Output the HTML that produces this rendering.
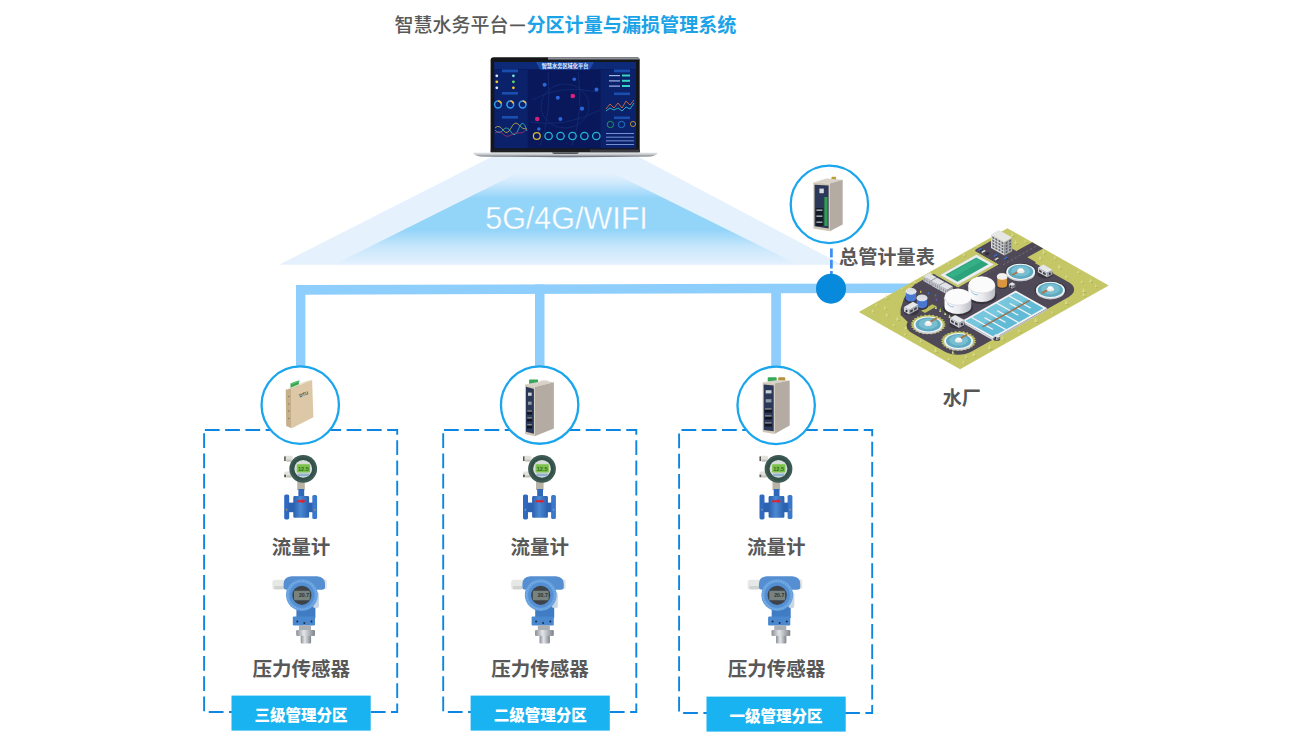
<!DOCTYPE html>
<html lang="zh-CN">
<head>
<meta charset="utf-8">
<title>智慧水务平台—分区计量与漏损管理系统</title>
<style>
html,body{margin:0;padding:0;background:#fff;}
body{width:1313px;height:749px;overflow:hidden;position:relative;font-family:"Liberation Sans","Noto Sans CJK SC",sans-serif;}
svg{position:absolute;left:0;top:0;display:block;}
text{font-family:"Liberation Sans","Noto Sans CJK SC",sans-serif;}
.lb{font-weight:700;fill:#585858;font-size:19.5px;text-anchor:middle;}
.tag{font-weight:900;fill:#fff;font-size:15.5px;text-anchor:middle;}
</style>
</head>
<body>
<svg width="1313" height="749" viewBox="0 0 1313 749">
<defs>
<linearGradient id="beam" x1="0" y1="0" x2="0" y2="1">
<stop offset="0" stop-color="#e5f1fd"/>
<stop offset="0.10" stop-color="#d0eafc"/>
<stop offset="0.28" stop-color="#93d4f9"/>
<stop offset="0.62" stop-color="#93d4f9"/>
<stop offset="0.80" stop-color="#c6e6fb"/>
<stop offset="1" stop-color="#e5f1fd"/>
</linearGradient>
<linearGradient id="blueBody" x1="0" y1="0" x2="1" y2="0">
<stop offset="0" stop-color="#2a5fae"/><stop offset="0.45" stop-color="#4a88d2"/><stop offset="1" stop-color="#2a5fae"/>
</linearGradient>
<linearGradient id="steel" x1="0" y1="0" x2="1" y2="0">
<stop offset="0" stop-color="#8a8f96"/><stop offset="0.4" stop-color="#e3e5e8"/><stop offset="1" stop-color="#7d838a"/>
</linearGradient>
<linearGradient id="base" x1="0" y1="0" x2="0" y2="1">
<stop offset="0" stop-color="#eceef0"/><stop offset="0.45" stop-color="#c3c6cb"/><stop offset="0.8" stop-color="#85888e"/><stop offset="1" stop-color="#4c4e54"/>
</linearGradient>
<linearGradient id="tankW" x1="0" y1="0" x2="1" y2="0">
<stop offset="0" stop-color="#ffffff"/><stop offset="0.55" stop-color="#e9eaee"/><stop offset="1" stop-color="#b9bbc4"/>
</linearGradient>
</defs>
<!-- wireless beam -->
<polygon points="491.5,157 639,157 842,264.7 279,264.7" fill="#e5f1fd"/>
<polygon points="518,172.8 612.5,172.8 798,264.6 334,264.6" fill="url(#beam)"/>
<text x="485.2" y="228.9" font-size="31.6" fill="#fff" stroke="#93d4f9" stroke-width="0.35" textLength="162.6" lengthAdjust="spacingAndGlyphs">5G/4G/WIFI</text>
<!-- pipes -->
<g fill="#8ecefd">
<polygon points="296,285.1 915,283.4 915,292.9 296,294.7"/>
<rect x="296" y="285.1" width="9.4" height="85"/>
<rect x="535" y="284.5" width="9.5" height="85"/>
<rect x="771.2" y="284" width="9.7" height="85"/>
</g>
<line x1="831.4" y1="247.8" x2="831.4" y2="275" stroke="#3d8df5" stroke-width="2.7" stroke-dasharray="8.8 2.4" stroke-dashoffset="10.4"/>
<circle cx="831" cy="288.7" r="15" fill="#0789dc"/>
<!-- laptop -->
<g>
<path d="M493.6,57.2 H636.7 Q639.7,57.2 639.7,60.2 V152.4 H490.6 V60.2 Q490.6,57.2 493.6,57.2Z" fill="#15161a"/>
<path d="M548,57.3 H636.7 Q639.2,57.3 639.5,59.4 H548Z" fill="#8e9197"/><rect x="490.8" y="149.6" width="148.7" height="2.8" fill="#1e1f24"/><rect x="590" y="149.6" width="49.5" height="2.8" fill="#3b3d43"/>
<rect x="494.3" y="62" width="141.7" height="86.4" fill="#0a1c5e"/>
<rect x="494.3" y="62" width="141.7" height="7" fill="#0d2a78"/>
<polygon points="536,62 594,62 590,69.5 540,69.5" fill="#1d4aa8"/>
<text x="565" y="67.6" font-size="5.2" font-weight="700" fill="#e8f1ff" text-anchor="middle">智慧水务区域化平台</text>
<!-- left panels -->
<rect x="494.5" y="70" width="33" height="78" fill="#0b2169"/>
<rect x="528" y="70" width="72" height="78" fill="#08185a"/>
<rect x="601" y="70" width="35" height="78" fill="#0b2169"/>
<g fill="#1a4fb0">
<rect x="502" y="69.5" width="16" height="2.8"/><rect x="502" y="92" width="16" height="2.6"/><rect x="502" y="116" width="16" height="2.6"/>
<rect x="614" y="69.5" width="16" height="2.8"/><rect x="614" y="92.5" width="16" height="2.6"/><rect x="614" y="116.5" width="16" height="2.6"/>
</g>
<g>
<circle cx="496.8" cy="75.8" r="1.4" fill="#dfe9ff"/><circle cx="496.8" cy="81.8" r="1.4" fill="#f2c530"/><circle cx="496.8" cy="87.8" r="1.4" fill="#dfe9ff"/>
<circle cx="513.4" cy="75.8" r="1.4" fill="#7de0d0"/><circle cx="513.4" cy="81.8" r="1.4" fill="#63e05a"/><circle cx="513.4" cy="87.8" r="1.4" fill="#f2c530"/>
</g>
<g fill="none" stroke-width="1.5">
<circle cx="498" cy="104.5" r="3.4" stroke="#2f9cf2"/><circle cx="510.3" cy="104.5" r="3.4" stroke="#2f9cf2"/><circle cx="522.6" cy="104.5" r="3.4" stroke="#2f9cf2"/>
<path d="M498,101.1 A3.4,3.4 0 0 1 501.2,103.4" stroke="#f4b740"/><path d="M510.3,101.1 A3.4,3.4 0 0 1 513.5,103.4" stroke="#f4b740"/><path d="M522.6,101.1 A3.4,3.4 0 0 1 525.8,103.4" stroke="#f4b740"/>
</g>
<path d="M495,128 q4,-4 8,2 t8,-2 t8,-3 t8,4" fill="none" stroke="#d8c53a" stroke-width="0.7"/>
<path d="M495,130 q4,5 8,0 t8,2 t8,-4 t8,3" fill="none" stroke="#34c9c0" stroke-width="0.7"/>
<path d="M495,133 q4,-3 8,1 t8,1 t8,-2 t8,-4" fill="none" stroke="#c0306a" stroke-width="0.7"/>
<g fill="none" stroke="#17337f" stroke-width="0.6"><path d="M532,100 Q560,84 598,92"/><path d="M540,146 Q552,112 548,72"/><path d="M530,122 Q566,128 600,110"/><path d="M578,72 Q584,110 572,146"/><ellipse cx="565" cy="106" rx="24" ry="22"/></g>
<!-- map dots -->
<g fill="#2a66d8"><circle cx="544.6" cy="84.8" r="2"/><circle cx="574.3" cy="79.3" r="1.8"/><circle cx="596.5" cy="89.6" r="2"/><circle cx="557.8" cy="97.8" r="2"/><circle cx="582" cy="108.7" r="2.1"/><circle cx="560.4" cy="119" r="2"/><circle cx="538.8" cy="129" r="1.8"/></g>
<circle cx="572.8" cy="96" r="2.3" fill="#e0207a"/><circle cx="537.2" cy="119" r="2.3" fill="#d0207a"/>
<!-- bottom icons -->
<g fill="none" stroke="#21b6d6" stroke-width="1.3"><circle cx="548.6" cy="136" r="3.7"/><circle cx="560.5" cy="136" r="3.7"/><circle cx="572.5" cy="136" r="3.7"/><circle cx="584.4" cy="136" r="3.7"/><circle cx="596.3" cy="136" r="3.7"/></g>
<circle cx="536.8" cy="136" r="3.4" fill="none" stroke="#d8b83a" stroke-width="1.3"/>
<!-- right panels -->
<g fill="#35d6c0"><rect x="622" y="74.5" width="8" height="2"/><rect x="622" y="79.8" width="8" height="2"/><rect x="622" y="85" width="8" height="2"/></g>
<g fill="#9fb6e8"><rect x="609" y="75" width="11" height="1.2"/><rect x="609" y="80.3" width="11" height="1.2"/><rect x="609" y="85.5" width="11" height="1.2"/></g>
<path d="M606,109 l4,-5 4,4 4,-5 4,5 4,-7 4,4 4,-5" fill="none" stroke="#e8763a" stroke-width="0.8"/>
<path d="M606,111 l4,-3 4,2 4,-2 4,3 4,-4 4,2 4,-6" fill="none" stroke="#2fd0d8" stroke-width="0.8"/>
<g fill="none" stroke-width="0.8"><circle cx="610.4" cy="124.5" r="3.2" stroke="#2fae5a"/><circle cx="621.5" cy="124.5" r="3.2" stroke="#2a8ad8"/><circle cx="633" cy="124" r="2.6" stroke="#d8a630"/></g>
<g fill="#7f9de0"><rect x="606" y="133" width="28" height="0.9"/><rect x="606" y="136.7" width="28" height="0.9"/><rect x="606" y="140.4" width="28" height="0.9"/><rect x="606" y="144" width="28" height="0.9"/></g>
<!-- base -->
<path d="M473,152.4 H657.7 Q657.2,155.4 650,156.4 Q565,158 481,156.4 Q473.6,155.4 473,152.4Z" fill="url(#base)"/>
<path d="M552,152.4 H579 Q578.4,153.8 576.5,153.8 H554.5 Q552.6,153.8 552,152.4Z" fill="#2a2b30"/>
</g>
<!-- zone 三级管理分区 -->
<rect x="204.1" y="430" width="193.1" height="282" fill="none" stroke="#0c86e2" stroke-width="1.9" stroke-dasharray="14.75 5.5" stroke-dashoffset="-0.8"/>
<rect x="231.5" y="695.6" width="139.2" height="35" fill="#19b3f1"/>
<text class="tag" x="301.1" y="720.6">三级管理分区</text>
<!-- zone 二级管理分区 -->
<rect x="443.2" y="430" width="193.1" height="282" fill="none" stroke="#0c86e2" stroke-width="1.9" stroke-dasharray="14.75 5.5" stroke-dashoffset="-0.8"/>
<rect x="470.6" y="695.6" width="139.2" height="35" fill="#19b3f1"/>
<text class="tag" x="540.2" y="720.6">二级管理分区</text>
<!-- zone 一级管理分区 -->
<rect x="679.1" y="430" width="193.1" height="283" fill="none" stroke="#0c86e2" stroke-width="1.9" stroke-dasharray="14.75 5.5" stroke-dashoffset="-2.4"/>
<rect x="706.5" y="696.6" width="139.2" height="35" fill="#19b3f1"/>
<text class="tag" x="776.1" y="721.6">一级管理分区</text>
<circle cx="300.25" cy="405.1" r="38.7" fill="#fff" stroke="#1aa5ec" stroke-width="2.3"/>
<g transform="translate(0.00,0.00)">
<polygon points="290.5,383.6 298.9,380.4 298.9,386 290.5,389" fill="#3aa655"/><polygon points="290.5,383.6 298.9,380.4 300.4,381.2 292,384.4" fill="#58c473"/>
<polygon points="285.7,389.7 291.7,388.5 312.1,380.1 306.3,381" fill="#eadcc0"/>
<polygon points="285.7,389.7 291.7,388.5 291.7,428.2 286.2,426" fill="#c6b08c"/>
<polygon points="291.7,388.5 312.1,380.1 313.4,417.3 291.7,428.2" fill="#dcc8a6"/>
<g fill="#8a7a60"><circle cx="288.8" cy="396.5" r="0.8"/><circle cx="288.8" cy="404" r="0.8"/><circle cx="288.8" cy="411" r="0.8"/><circle cx="288.8" cy="418.5" r="0.8"/></g>
<text x="298.4" y="396.4" font-size="4.6" font-weight="700" fill="#4e4a42" transform="rotate(-22 302 393)">DTU</text>
</g>
<circle cx="539.65" cy="405.05" r="38.7" fill="#fff" stroke="#1aa5ec" stroke-width="2.3"/>
<g><rect x="529.1" y="379.6" width="9" height="4.6" rx="0.8" fill="#35a85a"/><rect x="540.1" y="380.2" width="8" height="3.4" rx="1" fill="#e6e4e0"/><polygon points="525,384.6 544.2,380.7 553.9,382.2 534.7,387" fill="#d8d2c8"/><polygon points="534.7,387 553.9,382.2 553.9,428.5 534.7,436.3" fill="#b4aca2"/><polygon points="525,384.6 534.7,387 534.7,436.3 525,433.9" fill="#cfc6b6"/><polygon points="526,386.8 533.9000000000001,389.0 533.9000000000001,433.7 526,431.7" fill="#2b3858"/><rect x="527.0" y="410.2" width="5.1" height="4.4" fill="#10151f"/><rect x="527.2" y="410.4" width="4.7" height="1.2" fill="#9aa3ad"/><rect x="527.0" y="417.1" width="5.1" height="4.4" fill="#10151f"/><rect x="527.2" y="417.3" width="4.7" height="1.2" fill="#9aa3ad"/><rect x="527.0" y="424.0" width="5.1" height="4.4" fill="#10151f"/><rect x="527.2" y="424.2" width="4.7" height="1.2" fill="#9aa3ad"/><rect x="528.0" y="392.6" width="3.7" height="3.2" fill="#c9ced6"/><rect x="528.0" y="401.6" width="3.7" height="3.2" fill="#8f98a6"/></g>
<circle cx="776.15" cy="405.35" r="38.7" fill="#fff" stroke="#1aa5ec" stroke-width="2.3"/>
<g><rect x="767.7" y="377.2" width="9" height="4.6" rx="0.8" fill="#35a85a"/><rect x="778.2" y="377.2" width="7" height="4" rx="1" fill="#b8923a"/><polygon points="762.7,382.2 777.9,380.1 789.7,380.4 774.5,383.4" fill="#d8d2c8"/><polygon points="774.5,383.4 789.7,380.4 789.7,425.5 774.5,433.9" fill="#b4aca2"/><polygon points="762.7,382.2 774.5,383.4 774.5,433.9 762.7,432.1" fill="#cfc6b6"/><polygon points="763.7,384.4 773.7,385.4 773.7,431.29999999999995 763.7,429.90000000000003" fill="#2b3858"/><rect x="764.7" y="408.1" width="7.2" height="4.4" fill="#10151f"/><rect x="764.9" y="408.3" width="6.8" height="1.2" fill="#9aa3ad"/><rect x="764.7" y="415.1" width="7.2" height="4.4" fill="#10151f"/><rect x="764.9" y="415.3" width="6.8" height="1.2" fill="#9aa3ad"/><rect x="764.7" y="422.1" width="7.2" height="4.4" fill="#10151f"/><rect x="764.9" y="422.3" width="6.8" height="1.2" fill="#9aa3ad"/><rect x="765.7" y="390.2" width="5.8" height="3.2" fill="#c9ced6"/><rect x="765.7" y="399.2" width="5.8" height="3.2" fill="#8f98a6"/></g>
<circle cx="829.4" cy="204.4" r="38.7" fill="#fff" stroke="#1aa5ec" stroke-width="2.3"/>
<g>
<rect x="831.5" y="176.8" width="4.6" height="3.4" rx="0.8" fill="#b8a030"/>
<polygon points="813.4,182.4 826.5,178.6 842.7,179.7 829.7,183.4" fill="#d8d2c8"/>
<polygon points="829.7,183.4 842.7,179.7 842.7,224.4 829.7,231.2" fill="#b4aca2"/>
<polygon points="813.4,182.4 829.7,183.4 829.7,231.2 813.4,228.6" fill="#cfc6b6"/>
<polygon points="814.6,184.8 828.6,185.6 828.6,228.4 814.6,226.2" fill="#2b3858"/>
<rect x="824.4" y="197" width="3.2" height="29" fill="#2fa050"/>
<rect x="815.8" y="208" width="7.4" height="18" fill="#141a26"/>
<rect x="816.4" y="209.4" width="6" height="1.6" fill="#9aa3ad"/><rect x="816.4" y="215.4" width="6" height="1.6" fill="#9aa3ad"/><rect x="816.4" y="221.4" width="6" height="1.6" fill="#9aa3ad"/>
<rect x="819.4" y="188.6" width="4.4" height="4.6" fill="#d5dae2"/>
</g>
<g transform="translate(0,0)">
<!-- flow meter -->
<rect x="284.2" y="455.8" width="8.5" height="5.8" rx="1.6" fill="#e2e2dc"/><rect x="284.2" y="456.4" width="1.5" height="4.6" fill="#55534e"/><rect x="286.4" y="459.6" width="5" height="2" fill="#c4c4bc"/>
<rect x="284.2" y="471.6" width="8.5" height="5.8" rx="1.6" fill="#e2e2dc"/><rect x="284.2" y="474.6" width="1.8" height="2.6" fill="#55534e"/><rect x="286.4" y="475.4" width="5" height="2" fill="#c4c4bc"/>
<rect x="297.2" y="481" width="7.6" height="9" fill="#b9b3a6"/>
<rect x="298.4" y="489" width="5.8" height="8.5" fill="#2f68b8"/>
<rect x="284.2" y="494.4" width="5" height="25" rx="1.6" fill="#2f6ac0"/>
<rect x="312.3" y="495" width="4.8" height="24" rx="1.6" fill="#3a78cc"/>
<rect x="288.6" y="502.6" width="24.2" height="9.6" fill="#2c62b0"/>
<rect x="293.3" y="496" width="15.8" height="21.8" rx="1.4" fill="url(#blueBody)"/>
<path d="M296.9,500.2 h5.2 v-1.1 l3.6,2.1 l-3.6,2.1 v-1.1 h-5.2z" fill="#dc2430"/>
<circle cx="286.6" cy="509.8" r="0.8" fill="#c9a06a"/><circle cx="314.8" cy="509.8" r="0.8" fill="#c9a06a"/>
<circle cx="303.2" cy="468.8" r="13.9" fill="#3e5a54"/>
<circle cx="303.2" cy="468.8" r="11.6" fill="#34504a"/>
<circle cx="303.2" cy="468.8" r="8.9" fill="#d5ddd8"/>
<rect x="296.8" y="464.2" width="13.2" height="8.4" rx="0.8" fill="#7cc24a"/>
<text x="303.4" y="470.6" font-size="5.6" font-weight="700" fill="#2f6a24" text-anchor="middle">12.5</text>
<rect x="297.6" y="473.6" width="11.4" height="2.6" fill="#8fb0cf"/>
</g>
<g transform="translate(0,0)">
<!-- pressure transmitter -->
<rect x="272.4" y="579.7" width="13" height="9.8" rx="2.6" fill="#e6e8e6"/><rect x="274" y="586" width="10" height="3.2" rx="1.4" fill="#cfd3d2"/>
<rect x="322.5" y="579.4" width="4.4" height="9.6" rx="1.2" fill="#e4e6e6"/>
<path d="M291.6,576.3 H317 Q325,577 325,584 V587 Q325,589.7 322,589.7 H286.6 Q283.6,589.7 283.6,587 V584 Q283.6,577 291.6,576.3Z" fill="#558fd2"/>
<rect x="296.4" y="606" width="19" height="12" fill="#3f7cc4"/>
<rect x="313" y="592" width="6" height="16" rx="2" fill="#c9d6e4"/>
<circle cx="301.9" cy="595.1" r="15.9" fill="#65a0de"/>
<circle cx="301.9" cy="595.1" r="12.6" fill="#548fd4"/>
<circle cx="301.9" cy="595.1" r="14.2" fill="none" stroke="#7db0e6" stroke-width="1.5" stroke-dasharray="1.1 1.5"/>
<circle cx="301.9" cy="595.3" r="9.6" fill="#3d4349"/>
<rect x="294" y="590.8" width="15.8" height="9.4" rx="1.2" fill="#78827f"/>
<text x="304" y="597.4" font-size="5.2" font-weight="700" fill="#2c3331" text-anchor="middle">20.7</text>
<rect x="292.8" y="616.4" width="22.2" height="9" rx="1.2" fill="#4a88d0"/>
<circle cx="297.3" cy="621.6" r="1" fill="#1c2c48"/><circle cx="304.3" cy="623" r="1" fill="#1c2c48"/><circle cx="311.5" cy="621.6" r="1" fill="#1c2c48"/>
<rect x="299" y="625.2" width="12" height="5.2" fill="#aab0b6"/>
<rect x="296.2" y="630" width="18.8" height="6" rx="1.2" fill="url(#steel)"/>
<rect x="300.7" y="635.8" width="10.4" height="7.6" rx="0.8" fill="url(#steel)"/>
</g>
<text class="lb" x="300.9" y="553.6">流量计</text>
<text class="lb" x="301.2" y="675.8">压力传感器</text>
<g transform="translate(238.8,0)">
<!-- flow meter -->
<rect x="284.2" y="455.8" width="8.5" height="5.8" rx="1.6" fill="#e2e2dc"/><rect x="284.2" y="456.4" width="1.5" height="4.6" fill="#55534e"/><rect x="286.4" y="459.6" width="5" height="2" fill="#c4c4bc"/>
<rect x="284.2" y="471.6" width="8.5" height="5.8" rx="1.6" fill="#e2e2dc"/><rect x="284.2" y="474.6" width="1.8" height="2.6" fill="#55534e"/><rect x="286.4" y="475.4" width="5" height="2" fill="#c4c4bc"/>
<rect x="297.2" y="481" width="7.6" height="9" fill="#b9b3a6"/>
<rect x="298.4" y="489" width="5.8" height="8.5" fill="#2f68b8"/>
<rect x="284.2" y="494.4" width="5" height="25" rx="1.6" fill="#2f6ac0"/>
<rect x="312.3" y="495" width="4.8" height="24" rx="1.6" fill="#3a78cc"/>
<rect x="288.6" y="502.6" width="24.2" height="9.6" fill="#2c62b0"/>
<rect x="293.3" y="496" width="15.8" height="21.8" rx="1.4" fill="url(#blueBody)"/>
<path d="M296.9,500.2 h5.2 v-1.1 l3.6,2.1 l-3.6,2.1 v-1.1 h-5.2z" fill="#dc2430"/>
<circle cx="286.6" cy="509.8" r="0.8" fill="#c9a06a"/><circle cx="314.8" cy="509.8" r="0.8" fill="#c9a06a"/>
<circle cx="303.2" cy="468.8" r="13.9" fill="#3e5a54"/>
<circle cx="303.2" cy="468.8" r="11.6" fill="#34504a"/>
<circle cx="303.2" cy="468.8" r="8.9" fill="#d5ddd8"/>
<rect x="296.8" y="464.2" width="13.2" height="8.4" rx="0.8" fill="#7cc24a"/>
<text x="303.4" y="470.6" font-size="5.6" font-weight="700" fill="#2f6a24" text-anchor="middle">12.5</text>
<rect x="297.6" y="473.6" width="11.4" height="2.6" fill="#8fb0cf"/>
</g>
<g transform="translate(238.8,0)">
<!-- pressure transmitter -->
<rect x="272.4" y="579.7" width="13" height="9.8" rx="2.6" fill="#e6e8e6"/><rect x="274" y="586" width="10" height="3.2" rx="1.4" fill="#cfd3d2"/>
<rect x="322.5" y="579.4" width="4.4" height="9.6" rx="1.2" fill="#e4e6e6"/>
<path d="M291.6,576.3 H317 Q325,577 325,584 V587 Q325,589.7 322,589.7 H286.6 Q283.6,589.7 283.6,587 V584 Q283.6,577 291.6,576.3Z" fill="#558fd2"/>
<rect x="296.4" y="606" width="19" height="12" fill="#3f7cc4"/>
<rect x="313" y="592" width="6" height="16" rx="2" fill="#c9d6e4"/>
<circle cx="301.9" cy="595.1" r="15.9" fill="#65a0de"/>
<circle cx="301.9" cy="595.1" r="12.6" fill="#548fd4"/>
<circle cx="301.9" cy="595.1" r="14.2" fill="none" stroke="#7db0e6" stroke-width="1.5" stroke-dasharray="1.1 1.5"/>
<circle cx="301.9" cy="595.3" r="9.6" fill="#3d4349"/>
<rect x="294" y="590.8" width="15.8" height="9.4" rx="1.2" fill="#78827f"/>
<text x="304" y="597.4" font-size="5.2" font-weight="700" fill="#2c3331" text-anchor="middle">20.7</text>
<rect x="292.8" y="616.4" width="22.2" height="9" rx="1.2" fill="#4a88d0"/>
<circle cx="297.3" cy="621.6" r="1" fill="#1c2c48"/><circle cx="304.3" cy="623" r="1" fill="#1c2c48"/><circle cx="311.5" cy="621.6" r="1" fill="#1c2c48"/>
<rect x="299" y="625.2" width="12" height="5.2" fill="#aab0b6"/>
<rect x="296.2" y="630" width="18.8" height="6" rx="1.2" fill="url(#steel)"/>
<rect x="300.7" y="635.8" width="10.4" height="7.6" rx="0.8" fill="url(#steel)"/>
</g>
<text class="lb" x="539.7" y="553.6">流量计</text>
<text class="lb" x="540.0" y="675.8">压力传感器</text>
<g transform="translate(475.3,0)">
<!-- flow meter -->
<rect x="284.2" y="455.8" width="8.5" height="5.8" rx="1.6" fill="#e2e2dc"/><rect x="284.2" y="456.4" width="1.5" height="4.6" fill="#55534e"/><rect x="286.4" y="459.6" width="5" height="2" fill="#c4c4bc"/>
<rect x="284.2" y="471.6" width="8.5" height="5.8" rx="1.6" fill="#e2e2dc"/><rect x="284.2" y="474.6" width="1.8" height="2.6" fill="#55534e"/><rect x="286.4" y="475.4" width="5" height="2" fill="#c4c4bc"/>
<rect x="297.2" y="481" width="7.6" height="9" fill="#b9b3a6"/>
<rect x="298.4" y="489" width="5.8" height="8.5" fill="#2f68b8"/>
<rect x="284.2" y="494.4" width="5" height="25" rx="1.6" fill="#2f6ac0"/>
<rect x="312.3" y="495" width="4.8" height="24" rx="1.6" fill="#3a78cc"/>
<rect x="288.6" y="502.6" width="24.2" height="9.6" fill="#2c62b0"/>
<rect x="293.3" y="496" width="15.8" height="21.8" rx="1.4" fill="url(#blueBody)"/>
<path d="M296.9,500.2 h5.2 v-1.1 l3.6,2.1 l-3.6,2.1 v-1.1 h-5.2z" fill="#dc2430"/>
<circle cx="286.6" cy="509.8" r="0.8" fill="#c9a06a"/><circle cx="314.8" cy="509.8" r="0.8" fill="#c9a06a"/>
<circle cx="303.2" cy="468.8" r="13.9" fill="#3e5a54"/>
<circle cx="303.2" cy="468.8" r="11.6" fill="#34504a"/>
<circle cx="303.2" cy="468.8" r="8.9" fill="#d5ddd8"/>
<rect x="296.8" y="464.2" width="13.2" height="8.4" rx="0.8" fill="#7cc24a"/>
<text x="303.4" y="470.6" font-size="5.6" font-weight="700" fill="#2f6a24" text-anchor="middle">12.5</text>
<rect x="297.6" y="473.6" width="11.4" height="2.6" fill="#8fb0cf"/>
</g>
<g transform="translate(475.3,0)">
<!-- pressure transmitter -->
<rect x="272.4" y="579.7" width="13" height="9.8" rx="2.6" fill="#e6e8e6"/><rect x="274" y="586" width="10" height="3.2" rx="1.4" fill="#cfd3d2"/>
<rect x="322.5" y="579.4" width="4.4" height="9.6" rx="1.2" fill="#e4e6e6"/>
<path d="M291.6,576.3 H317 Q325,577 325,584 V587 Q325,589.7 322,589.7 H286.6 Q283.6,589.7 283.6,587 V584 Q283.6,577 291.6,576.3Z" fill="#558fd2"/>
<rect x="296.4" y="606" width="19" height="12" fill="#3f7cc4"/>
<rect x="313" y="592" width="6" height="16" rx="2" fill="#c9d6e4"/>
<circle cx="301.9" cy="595.1" r="15.9" fill="#65a0de"/>
<circle cx="301.9" cy="595.1" r="12.6" fill="#548fd4"/>
<circle cx="301.9" cy="595.1" r="14.2" fill="none" stroke="#7db0e6" stroke-width="1.5" stroke-dasharray="1.1 1.5"/>
<circle cx="301.9" cy="595.3" r="9.6" fill="#3d4349"/>
<rect x="294" y="590.8" width="15.8" height="9.4" rx="1.2" fill="#78827f"/>
<text x="304" y="597.4" font-size="5.2" font-weight="700" fill="#2c3331" text-anchor="middle">20.7</text>
<rect x="292.8" y="616.4" width="22.2" height="9" rx="1.2" fill="#4a88d0"/>
<circle cx="297.3" cy="621.6" r="1" fill="#1c2c48"/><circle cx="304.3" cy="623" r="1" fill="#1c2c48"/><circle cx="311.5" cy="621.6" r="1" fill="#1c2c48"/>
<rect x="299" y="625.2" width="12" height="5.2" fill="#aab0b6"/>
<rect x="296.2" y="630" width="18.8" height="6" rx="1.2" fill="url(#steel)"/>
<rect x="300.7" y="635.8" width="10.4" height="7.6" rx="0.8" fill="url(#steel)"/>
</g>
<text class="lb" x="776.2" y="553.6">流量计</text>
<text class="lb" x="776.5" y="675.8">压力传感器</text>
<text x="394.6" y="31.6" font-size="19" font-weight="500" fill="#595959">智慧水务平台<tspan font-family="Noto Sans CJK SC" font-size="16.5" font-weight="700" dx="0.6" dy="0.1" stroke="#595959" stroke-width="0.8">—</tspan><tspan font-weight="700" fill="#1ba3e8" font-size="19.1" dx="0.7" dy="-0.1">分区计量与漏损管理系统</tspan></text>
<text x="839" y="263.6" font-size="19.2" font-weight="700" fill="#595959">总管计量表</text>
<text x="961.7" y="405" font-size="19" font-weight="700" fill="#555" text-anchor="middle">水厂</text>
<!-- water plant -->
<g>
<g transform="matrix(0.8714,-0.4905,0.8704,0.4923,858.8,311.9)">
<rect x="0" y="0" width="170.6" height="116.4" fill="#c5c766"/>
<path d="M24,37 H136 A15,15 0 0 1 151,52 V90 A15,15 0 0 1 136,105 H24 A15,15 0 0 1 9,90 V52 A15,15 0 0 1 24,37Z" fill="#4f4957"/>
<polygon points="60,4 82,4 82,52 18,52 18,38 21,27 27,21 40,12 50,7" fill="#4f4957"/>
<rect x="78" y="31" width="74" height="20" fill="#4f4957"/>
<path d="M131.5,3.5 H149.5 A3,3 0 0 1 152.5,6.5 V49 A3,3 0 0 1 149.5,52 H131.5 A3,3 0 0 1 128.5,49 V6.5 A3,3 0 0 1 131.5,3.5Z" fill="#4f4957"/>
<rect x="150" y="28.4" width="20.6" height="12.6" fill="#4f4957"/>
<line x1="131" y1="34.7" x2="170" y2="34.7" stroke="#8d8994" stroke-width="0.5" stroke-dasharray="2.4 2"/>
<line x1="84" y1="34.5" x2="127" y2="34.5" stroke="#6f6b78" stroke-width="0.5" stroke-dasharray="2.4 2"/>
<rect x="82" y="6.5" width="46.5" height="25.5" fill="#c5c766"/>
<rect x="84.4" y="9" width="41.6" height="20.2" fill="#eceef0"/>
<rect x="84.4" y="9" width="41.6" height="20.2" fill="none" stroke="#b9bcc4" stroke-width="0.6" stroke-dasharray="0.8 0.8"/>
<rect x="87.4" y="11.8" width="35.6" height="14" fill="#2da37c"/>
<rect x="89" y="13" width="33" height="6" fill="#38b48a" opacity="0.7"/>
<rect x="37" y="34.5" width="13" height="4.5" fill="#b9bf5c"/>
<rect x="50" y="68.2" width="62" height="36.2" fill="#f1f2f4"/>
<rect x="52.2" y="70.4" width="57.6" height="31.8" fill="#62bbd6"/>
<rect x="52.2" y="70.4" width="57.6" height="13" fill="#7fcbe0" opacity="0.7"/>
<rect x="58.50" y="70.2" width="1.5" height="24.5" fill="#f1f2f4"/>
<rect x="65.75" y="77.9" width="1.5" height="24.5" fill="#f1f2f4"/>
<rect x="73.00" y="70.2" width="1.5" height="24.5" fill="#f1f2f4"/>
<rect x="80.25" y="77.9" width="1.5" height="24.5" fill="#f1f2f4"/>
<rect x="87.50" y="70.2" width="1.5" height="24.5" fill="#f1f2f4"/>
<rect x="94.75" y="77.9" width="1.5" height="24.5" fill="#f1f2f4"/>
<rect x="102.00" y="70.2" width="1.5" height="24.5" fill="#f1f2f4"/>
<rect x="56" y="85.4" width="54" height="1.8" fill="#9c7150"/>
</g>
<polygon points="993.2,338.8 1047.3,308.4 1047.3,310.0 993.2,340.4" fill="#bfc2ca"/>
<polygon points="961.7,320.9 993.2,338.8 993.2,340.4 961.7,322.5" fill="#d9dbe0"/>
<polygon points="872.7,311.9 875.8,312.8 873.3,313.0" fill="#a3a54e"/><polygon points="871.7,312.4 872.7,308.8 873.8,312.4" fill="#d9dc8e"/>
<polygon points="876.2,306.0 879.0,306.8 876.7,307.0" fill="#a3a54e"/><polygon points="875.3,306.5 876.2,303.2 877.2,306.5" fill="#d9dc8e"/>
<polygon points="886.2,297.9 889.8,298.9 886.9,299.2" fill="#a3a54e"/><polygon points="885.0,298.5 886.2,294.3 887.5,298.5" fill="#d9dc8e"/>
<polygon points="902.0,289.1 904.7,289.9 902.5,290.1" fill="#a3a54e"/><polygon points="901.1,289.6 902.0,286.5 902.9,289.6" fill="#d9dc8e"/>
<polygon points="914.6,282.5 918.0,283.4 915.2,283.6" fill="#a3a54e"/><polygon points="913.4,283.0 914.6,279.1 915.7,283.0" fill="#d9dc8e"/>
<polygon points="930.4,273.7 933.6,274.6 931.0,274.8" fill="#a3a54e"/><polygon points="929.3,274.2 930.4,270.6 931.5,274.2" fill="#d9dc8e"/>
<polygon points="948.6,264.3 951.2,265.1 949.0,265.2" fill="#a3a54e"/><polygon points="947.6,264.7 948.6,261.7 949.5,264.7" fill="#d9dc8e"/>
<polygon points="963.7,255.2 967.1,256.2 964.3,256.4" fill="#a3a54e"/><polygon points="962.6,255.7 963.7,251.8 964.9,255.7" fill="#d9dc8e"/>
<polygon points="976.9,246.9 979.5,247.6 977.4,247.8" fill="#a3a54e"/><polygon points="976.0,247.3 976.9,244.3 977.8,247.3" fill="#d9dc8e"/>
<polygon points="886.7,315.9 889.9,316.8 887.3,317.0" fill="#a3a54e"/><polygon points="885.5,316.4 886.7,312.6 887.8,316.4" fill="#d9dc8e"/>
<polygon points="893.6,325.7 896.3,326.4 894.1,326.6" fill="#a3a54e"/><polygon points="892.7,326.1 893.6,323.0 894.5,326.1" fill="#d9dc8e"/>
<polygon points="904.9,335.0 907.6,335.8 905.4,336.0" fill="#a3a54e"/><polygon points="904.0,335.5 904.9,332.3 905.9,335.5" fill="#d9dc8e"/>
<polygon points="920.6,341.9 923.8,342.9 921.2,343.1" fill="#a3a54e"/><polygon points="919.5,342.4 920.6,338.7 921.7,342.4" fill="#d9dc8e"/>
<polygon points="935.4,351.3 939.3,352.4 936.1,352.6" fill="#a3a54e"/><polygon points="934.1,351.9 935.4,347.4 936.7,351.9" fill="#d9dc8e"/>
<polygon points="948.5,359.7 951.2,360.4 949.0,360.6" fill="#a3a54e"/><polygon points="947.5,360.1 948.5,356.9 949.4,360.1" fill="#d9dc8e"/>
<polygon points="963.3,363.1 966.2,363.9 963.8,364.1" fill="#a3a54e"/><polygon points="962.3,363.6 963.3,360.2 964.3,363.6" fill="#d9dc8e"/>
<polygon points="973.7,355.3 977.3,356.3 974.4,356.5" fill="#a3a54e"/><polygon points="972.5,355.8 973.7,351.7 974.9,355.8" fill="#d9dc8e"/>
<polygon points="989.4,348.4 993.5,349.5 990.2,349.8" fill="#a3a54e"/><polygon points="988.0,349.0 989.4,344.3 990.8,349.0" fill="#d9dc8e"/>
<polygon points="1002.5,339.1 1006.0,340.1 1003.1,340.3" fill="#a3a54e"/><polygon points="1001.3,339.6 1002.5,335.6 1003.7,339.6" fill="#d9dc8e"/>
<polygon points="1019.0,331.7 1022.2,332.6 1019.6,332.8" fill="#a3a54e"/><polygon points="1017.9,332.2 1019.0,328.5 1020.1,332.2" fill="#d9dc8e"/>
<polygon points="1035.6,321.4 1039.7,322.6 1036.4,322.8" fill="#a3a54e"/><polygon points="1034.2,322.1 1035.6,317.3 1037.0,322.1" fill="#d9dc8e"/>
<polygon points="1052.1,313.1 1054.8,313.8 1052.6,314.0" fill="#a3a54e"/><polygon points="1051.2,313.5 1052.1,310.4 1053.0,313.5" fill="#d9dc8e"/>
<polygon points="1066.1,303.3 1070.0,304.4 1066.8,304.6" fill="#a3a54e"/><polygon points="1064.7,303.9 1066.1,299.3 1067.4,303.9" fill="#d9dc8e"/>
<polygon points="1083.5,295.4 1086.5,296.3 1084.1,296.5" fill="#a3a54e"/><polygon points="1082.5,295.9 1083.5,292.4 1084.5,295.9" fill="#d9dc8e"/>
<polygon points="1095.7,286.6 1098.5,287.4 1096.2,287.6" fill="#a3a54e"/><polygon points="1094.8,287.0 1095.7,283.8 1096.7,287.0" fill="#d9dc8e"/>
<polygon points="1081.8,282.6 1084.5,283.4 1082.3,283.6" fill="#a3a54e"/><polygon points="1080.8,283.1 1081.8,279.9 1082.7,283.1" fill="#d9dc8e"/>
<polygon points="1078.3,272.8 1081.4,273.7 1078.9,273.9" fill="#a3a54e"/><polygon points="1077.3,273.3 1078.3,269.8 1079.4,273.3" fill="#d9dc8e"/>
<polygon points="1059.2,267.9 1063.0,269.0 1059.9,269.2" fill="#a3a54e"/><polygon points="1057.8,268.5 1059.2,264.0 1060.5,268.5" fill="#d9dc8e"/>
<polygon points="1054.8,258.5 1057.7,259.3 1055.3,259.5" fill="#a3a54e"/><polygon points="1053.8,259.0 1054.8,255.7 1055.8,259.0" fill="#d9dc8e"/>
<polygon points="1040.0,259.0 1043.5,260.0 1040.7,260.2" fill="#a3a54e"/><polygon points="1038.8,259.6 1040.0,255.5 1041.2,259.6" fill="#d9dc8e"/>
<polygon points="1043.5,253.1 1047.1,254.1 1044.2,254.4" fill="#a3a54e"/><polygon points="1042.3,253.7 1043.5,249.5 1044.7,253.7" fill="#d9dc8e"/>
<polygon points="1015.6,243.3 1018.8,244.2 1016.2,244.4" fill="#a3a54e"/><polygon points="1014.5,243.8 1015.6,240.1 1016.7,243.8" fill="#d9dc8e"/>
<polygon points="1012.2,235.4 1015.6,236.4 1012.8,236.6" fill="#a3a54e"/><polygon points="1011.0,235.9 1012.2,232.0 1013.3,235.9" fill="#d9dc8e"/>
<polygon points="1000.8,237.8 1003.5,238.6 1001.3,238.8" fill="#a3a54e"/><polygon points="999.9,238.3 1000.8,235.2 1001.7,238.3" fill="#d9dc8e"/>
<polygon points="1025.2,241.8 1027.9,242.5 1025.7,242.7" fill="#a3a54e"/><polygon points="1024.3,242.2 1025.2,239.1 1026.1,242.2" fill="#d9dc8e"/>
<polygon points="1006.9,242.3 1009.8,243.1 1007.5,243.3" fill="#a3a54e"/><polygon points="1005.9,242.7 1006.9,239.4 1007.9,242.7" fill="#d9dc8e"/>
<polygon points="897.1,319.8 900.8,320.8 897.8,321.1" fill="#a3a54e"/><polygon points="895.9,320.4 897.1,316.2 898.4,320.4" fill="#d9dc8e"/>
<polygon points="884.9,309.0 888.2,309.9 885.5,310.1" fill="#a3a54e"/><polygon points="883.8,309.5 884.9,305.7 886.0,309.5" fill="#d9dc8e"/>
<polygon points="1066.1,277.7 1069.2,278.6 1066.7,278.8" fill="#a3a54e"/><polygon points="1065.1,278.2 1066.1,274.7 1067.2,278.2" fill="#d9dc8e"/>
<polygon points="1090.5,281.7 1094.0,282.7 1091.1,282.9" fill="#a3a54e"/><polygon points="1089.3,282.2 1090.5,278.2 1091.7,282.2" fill="#d9dc8e"/>
<polygon points="952.8,353.3 956.1,354.2 953.4,354.4" fill="#a3a54e"/><polygon points="951.7,353.8 952.8,350.0 953.9,353.8" fill="#d9dc8e"/>
<polygon points="965.9,357.7 968.9,358.6 966.4,358.8" fill="#a3a54e"/><polygon points="964.8,358.2 965.9,354.7 966.9,358.2" fill="#d9dc8e"/>
<polygon points="1083.5,291.5 1087.3,292.6 1084.2,292.8" fill="#a3a54e"/><polygon points="1082.2,292.1 1083.5,287.7 1084.8,292.1" fill="#d9dc8e"/>
<polygon points="905.8,328.7 909.5,329.7 906.5,329.9" fill="#a3a54e"/><polygon points="904.5,329.2 905.8,325.0 907.1,329.2" fill="#d9dc8e"/>
<polygon points="978.2,250.6 979.7,251.4 979.7,250.5 978.2,249.7" fill="#3f6fd0"/>
<polygon points="979.7,251.4 982.4,249.9 982.4,249.0 979.7,250.5" fill="#23252e"/>
<polygon points="978.2,249.7 981.0,248.1 982.4,249.0 979.7,250.5" fill="#3f6fd0"/>
<polygon points="981.7,252.6 983.1,253.4 983.1,252.5 981.7,251.7" fill="#e8e8ea"/>
<polygon points="983.1,253.4 985.9,251.8 985.9,250.9 983.1,252.5" fill="#23252e"/>
<polygon points="981.7,251.7 984.4,250.1 985.9,250.9 983.1,252.5" fill="#e8e8ea"/>
<polygon points="985.1,254.5 986.6,255.4 986.6,254.5 985.1,253.6" fill="#2d2f3a"/>
<polygon points="986.6,255.4 989.4,253.8 989.4,252.9 986.6,254.5" fill="#23252e"/>
<polygon points="985.1,253.6 987.9,252.1 989.4,252.9 986.6,254.5" fill="#2d2f3a"/>
<polygon points="993.8,256.5 995.3,257.3 995.3,256.4 993.8,255.6" fill="#3f6fd0"/>
<polygon points="995.3,257.3 998.1,255.8 998.1,254.9 995.3,256.4" fill="#23252e"/>
<polygon points="993.8,255.6 996.6,254.0 998.1,254.9 995.3,256.4" fill="#3f6fd0"/>
<polygon points="994.7,260.0 996.2,260.8 996.2,259.9 994.7,259.1" fill="#d9dbe0"/>
<polygon points="996.2,260.8 999.0,259.2 999.0,258.3 996.2,259.9" fill="#23252e"/>
<polygon points="994.7,259.1 997.5,257.5 999.0,258.3 996.2,259.9" fill="#d9dbe0"/>
<polygon points="1003.9,259.2 1005.3,260.1 1005.3,259.2 1003.9,258.3" fill="#3f6fd0"/>
<polygon points="1005.3,260.1 1008.1,258.5 1008.1,257.6 1005.3,259.2" fill="#23252e"/>
<polygon points="1003.9,258.3 1006.6,256.8 1008.1,257.6 1005.3,259.2" fill="#3f6fd0"/>
<polygon points="991.0,248.0 1004.4,255.6 1004.4,242.0 991.0,234.4" fill="#d9d9d6"/>
<polygon points="1004.4,255.6 1012.2,251.2 1012.2,237.6 1004.4,242.0" fill="#a9a9a6"/>
<polygon points="991.0,234.4 998.8,230.0 1012.2,237.6 1004.4,242.0" fill="#e6e6e4"/>
<polygon points="992.4,247.2 994.3,248.3 994.3,246.4 992.4,245.3" fill="#5f6675"/>
<polygon points="995.4,248.9 997.3,250.0 997.3,248.1 995.4,247.0" fill="#5f6675"/>
<polygon points="998.5,250.6 1000.4,251.7 1000.4,249.8 998.5,248.7" fill="#5f6675"/>
<polygon points="1001.5,252.4 1003.4,253.4 1003.4,251.5 1001.5,250.5" fill="#5f6675"/>
<polygon points="992.4,244.2 994.3,245.3 994.3,243.4 992.4,242.3" fill="#5f6675"/>
<polygon points="995.4,245.9 997.3,247.0 997.3,245.1 995.4,244.0" fill="#5f6675"/>
<polygon points="998.5,247.6 1000.4,248.7 1000.4,246.8 998.5,245.7" fill="#5f6675"/>
<polygon points="1001.5,249.4 1003.4,250.4 1003.4,248.5 1001.5,247.5" fill="#5f6675"/>
<polygon points="992.4,241.2 994.3,242.3 994.3,240.4 992.4,239.3" fill="#5f6675"/>
<polygon points="995.4,242.9 997.3,244.0 997.3,242.1 995.4,241.0" fill="#5f6675"/>
<polygon points="998.5,244.6 1000.4,245.7 1000.4,243.8 998.5,242.7" fill="#5f6675"/>
<polygon points="1001.5,246.4 1003.4,247.4 1003.4,245.5 1001.5,244.5" fill="#5f6675"/>
<polygon points="992.4,238.2 994.3,239.3 994.3,237.4 992.4,236.3" fill="#5f6675"/>
<polygon points="995.4,239.9 997.3,241.0 997.3,239.1 995.4,238.0" fill="#5f6675"/>
<polygon points="998.5,241.6 1000.4,242.7 1000.4,240.8 998.5,239.7" fill="#5f6675"/>
<polygon points="1001.5,243.4 1003.4,244.4 1003.4,242.5 1001.5,241.5" fill="#5f6675"/>
<polygon points="1005.6,253.3 1007.5,252.2 1007.5,250.3 1005.6,251.4" fill="#565c6a"/>
<polygon points="1009.1,251.3 1011.0,250.3 1011.0,248.4 1009.1,249.4" fill="#565c6a"/>
<polygon points="1005.6,250.3 1007.5,249.2 1007.5,247.3 1005.6,248.4" fill="#565c6a"/>
<polygon points="1009.1,248.3 1011.0,247.3 1011.0,245.4 1009.1,246.4" fill="#565c6a"/>
<polygon points="1005.6,247.3 1007.5,246.2 1007.5,244.3 1005.6,245.4" fill="#565c6a"/>
<polygon points="1009.1,245.3 1011.0,244.3 1011.0,242.4 1009.1,243.4" fill="#565c6a"/>
<polygon points="1005.6,244.3 1007.5,243.2 1007.5,241.3 1005.6,242.4" fill="#565c6a"/>
<polygon points="1009.1,242.3 1011.0,241.3 1011.0,239.4 1009.1,240.4" fill="#565c6a"/>
<ellipse cx="1020.7" cy="271.8" rx="16.0" ry="9.0" fill="#3c3842"/>
<ellipse cx="1020.7" cy="273.2" rx="14.4" ry="8.1" fill="#c9ccd4"/>
<ellipse cx="1020.7" cy="271.8" rx="14.4" ry="8.1" fill="#f4f5f7"/>
<ellipse cx="1020.7" cy="271.8" rx="12.6" ry="7.1" fill="#5eaac0"/>
<ellipse cx="1020.7" cy="271.0" rx="9.4" ry="5.3" fill="#79bed0"/>
<line x1="1020.7" y1="270.2" x2="1012.2" y2="275.0" stroke="#a8774c" stroke-width="2"/>
<ellipse cx="1020.7" cy="271.2" rx="3.7" ry="2.1" fill="#efece8"/>
<ellipse cx="1020.7" cy="269.6" rx="2.5" ry="1.4" fill="#ffffff"/>
<ellipse cx="1045.2" cy="273.9" rx="8.0" ry="4.5" fill="#3a3640"/>
<polygon points="1038.0,272.2 1047.2,277.3 1047.2,272.7 1038.0,267.6" fill="#cfd1d6"/>
<polygon points="1047.2,277.3 1052.4,274.4 1052.4,269.8 1047.2,272.7" fill="#a9abb3"/>
<polygon points="1038.0,267.6 1043.3,264.6 1052.4,269.8 1047.2,272.7" fill="#e6e7ea"/>
<polygon points="1039.1,269.5 1041.7,270.9 1041.7,273.1 1039.1,271.6" fill="#3a3c46"/>
<polygon points="1043.1,271.7 1045.6,273.1 1045.6,275.3 1043.1,273.9" fill="#3a3c46"/>
<ellipse cx="1049.8" cy="273.8" rx="1.0" ry="1.3" fill="#2e3038"/>
<polygon points="923.4,281.1 930.9,285.3 930.9,280.5 923.4,276.3" fill="#c6c8cf"/>
<polygon points="930.9,285.3 936.5,282.1 936.5,277.3 930.9,280.5" fill="#9c9ea8"/>
<polygon points="923.4,276.3 929.0,273.1 936.5,277.3 930.9,280.5" fill="#e2e3e7"/>
<polygon points="924.2,280.7 925.4,281.4 925.4,278.4 924.2,277.7" fill="#9295a2"/>
<polygon points="926.5,282.0 927.6,282.7 927.6,279.7 926.5,279.0" fill="#9295a2"/>
<polygon points="928.8,283.3 929.9,283.9 929.9,280.9 928.8,280.3" fill="#9295a2"/>
<polygon points="931.5,285.7 939.0,289.9 939.0,285.1 931.5,280.9" fill="#c6c8cf"/>
<polygon points="939.0,289.9 944.7,286.7 944.7,281.9 939.0,285.1" fill="#9c9ea8"/>
<polygon points="931.5,280.9 937.2,277.7 944.7,281.9 939.0,285.1" fill="#e2e3e7"/>
<polygon points="932.4,285.4 933.5,286.0 933.5,283.0 932.4,282.4" fill="#9295a2"/>
<polygon points="934.7,286.7 935.8,287.3 935.8,284.3 934.7,283.7" fill="#9295a2"/>
<polygon points="936.9,287.9 938.1,288.6 938.1,285.6 936.9,284.9" fill="#9295a2"/>
<polygon points="939.7,290.3 947.2,294.5 947.2,289.7 939.7,285.5" fill="#c6c8cf"/>
<polygon points="947.2,294.5 952.9,291.4 952.9,286.6 947.2,289.7" fill="#9c9ea8"/>
<polygon points="939.7,285.5 945.4,282.3 952.9,286.6 947.2,289.7" fill="#e2e3e7"/>
<polygon points="940.6,290.0 941.7,290.6 941.7,287.6 940.6,287.0" fill="#9295a2"/>
<polygon points="942.9,291.3 944.0,291.9 944.0,288.9 942.9,288.3" fill="#9295a2"/>
<polygon points="945.1,292.6 946.3,293.2 946.3,290.2 945.1,289.6" fill="#9295a2"/>
<ellipse cx="1012.1" cy="287.6" rx="2.7" ry="1.6" fill="#3a3640"/>
<polygon points="1009.0,287.0 1012.1,288.8 1012.1,285.8 1009.0,284.0" fill="#cfd1d6"/>
<polygon points="1012.1,288.8 1015.2,287.0 1015.2,284.0 1012.1,285.8" fill="#a9abb3"/>
<polygon points="1009.0,284.0 1012.1,282.2 1015.2,284.0 1012.1,285.8" fill="#e6e7ea"/>
<polygon points="1012.5,286.4 1013.4,285.9 1013.4,287.3 1012.5,287.8" fill="#3a3c46"/>
<polygon points="1013.8,285.6 1014.7,285.1 1014.7,286.6 1013.8,287.0" fill="#3a3c46"/>
<ellipse cx="1010.5" cy="286.5" rx="1.0" ry="1.3" fill="#2e3038"/>
<ellipse cx="1002.3" cy="285.6" rx="5.9" ry="3.3" fill="#37333d"/>
<path d="M997.3,276.4 V285.0 A4.9,2.8 0 0 0 1007.1,285.0 V276.4Z" fill="#d9953f"/>
<ellipse cx="1002.2" cy="276.4" rx="4.9" ry="2.8" fill="#f3f1ec" stroke="#ffffff" stroke-width="0.8"/>
<rect x="997.3" y="276.4" width="9.8" height="2.2" fill="#efeeea"/>
<ellipse cx="1050.4" cy="289.9" rx="16.0" ry="9.0" fill="#3c3842"/>
<ellipse cx="1050.4" cy="291.3" rx="14.4" ry="8.1" fill="#c9ccd4"/>
<ellipse cx="1050.4" cy="289.9" rx="14.4" ry="8.1" fill="#f4f5f7"/>
<ellipse cx="1050.4" cy="289.9" rx="12.6" ry="7.1" fill="#5eaac0"/>
<ellipse cx="1050.4" cy="289.1" rx="9.4" ry="5.3" fill="#79bed0"/>
<line x1="1050.4" y1="288.3" x2="1041.9" y2="293.1" stroke="#a8774c" stroke-width="2"/>
<ellipse cx="1050.4" cy="289.3" rx="3.7" ry="2.1" fill="#efece8"/>
<ellipse cx="1050.4" cy="287.7" rx="2.5" ry="1.4" fill="#ffffff"/>
<ellipse cx="981.7" cy="295.8" rx="14.9" ry="8.4" fill="#37333d"/>
<path d="M968.3,285.5 V294.3 A13.4,7.6 0 0 0 995.1,294.3 V285.5Z" fill="url(#tankW)"/>
<path d="M968.3,285.5 A13.4,9.2 0 0 1 995.1,285.5 A13.4,7.6 0 0 1 968.3,285.5Z" fill="#fbfbfc"/>
<path d="M968.3,285.5 A13.4,7.6 0 0 0 995.1,285.5" fill="none" stroke="#d5d6dc" stroke-width="0.7"/>
<path d="M970.8,291.3 q3,4 7,3.6" fill="none" stroke="#7db7e6" stroke-width="0.8"/>
<rect x="914.0" y="290.3" width="1.3" height="2" fill="#6a5acd"/>
<rect x="920.1" y="290.8" width="1.3" height="2" fill="#d8d040"/>
<rect x="927.9" y="292.3" width="1.3" height="2" fill="#3f6fd0"/>
<rect x="934.9" y="294.3" width="1.3" height="2" fill="#3f6fd0"/>
<rect x="935.7" y="298.7" width="1.3" height="2" fill="#6a5acd"/>
<rect x="943.6" y="297.2" width="1.3" height="2" fill="#3f6fd0"/>
<polygon points="934.6,308.9 937.2,308.9 935.9,307.7" fill="#e4ead0"/><polygon points="934.9,307.9 936.9,307.9 935.9,304.9" fill="#a4d048"/>
<polygon points="938.9,311.8 941.5,311.8 940.2,310.6" fill="#e4ead0"/><polygon points="939.2,310.8 941.2,310.8 940.2,307.8" fill="#a4d048"/>
<polygon points="943.9,314.9 946.5,314.9 945.2,313.7" fill="#e4ead0"/><polygon points="944.2,313.9 946.2,313.9 945.2,310.9" fill="#a4d048"/>
<polygon points="948.3,317.9 950.9,317.9 949.6,316.7" fill="#e4ead0"/><polygon points="948.6,316.9 950.6,316.9 949.6,313.9" fill="#a4d048"/>
<ellipse cx="911.0" cy="299.7" rx="6.0" ry="3.4" fill="#36323c"/>
<path d="M905.9,291.3 V298.7 A5.1,2.9 0 0 0 916.1,298.7 V291.3Z" fill="#4a78d0"/>
<ellipse cx="911.0" cy="291.3" rx="5.1" ry="2.9" fill="#d9dce2" stroke="#eef0f3" stroke-width="0.8"/>
<rect x="905.9" y="291.5" width="10.2" height="1.6" fill="#dfe2e8"/>
<ellipse cx="922.0" cy="306.3" rx="6.0" ry="3.4" fill="#36323c"/>
<path d="M916.9,297.9 V305.3 A5.1,2.9 0 0 0 927.1,305.3 V297.9Z" fill="#4a78d0"/>
<ellipse cx="922.0" cy="297.9" rx="5.1" ry="2.9" fill="#d9dce2" stroke="#eef0f3" stroke-width="0.8"/>
<rect x="916.9" y="298.1" width="10.2" height="1.6" fill="#dfe2e8"/>
<ellipse cx="957.9" cy="307.9" rx="14.9" ry="8.4" fill="#37333d"/>
<path d="M944.5,297.6 V306.4 A13.4,7.6 0 0 0 971.3,306.4 V297.6Z" fill="url(#tankW)"/>
<path d="M944.5,297.6 A13.4,9.2 0 0 1 971.3,297.6 A13.4,7.6 0 0 1 944.5,297.6Z" fill="#fbfbfc"/>
<path d="M944.5,297.6 A13.4,7.6 0 0 0 971.3,297.6" fill="none" stroke="#d5d6dc" stroke-width="0.7"/>
<path d="M947.0,303.4 q3,4 7,3.6" fill="none" stroke="#7db7e6" stroke-width="0.8"/>
<ellipse cx="911.1" cy="311.1" rx="8.0" ry="4.5" fill="#3a3640"/>
<polygon points="903.9,311.6 909.1,314.5 909.1,309.9 903.9,307.0" fill="#cfd1d6"/>
<polygon points="909.1,314.5 918.2,309.4 918.2,304.8 909.1,309.9" fill="#a9abb3"/>
<polygon points="903.9,307.0 913.0,301.8 918.2,304.8 909.1,309.9" fill="#e6e7ea"/>
<polygon points="910.2,310.6 912.8,309.2 912.8,311.3 910.2,312.8" fill="#3a3c46"/>
<polygon points="914.1,308.4 916.7,306.9 916.7,309.1 914.1,310.5" fill="#3a3c46"/>
<ellipse cx="906.5" cy="311.0" rx="1.0" ry="1.3" fill="#2e3038"/>
<ellipse cx="957.2" cy="324.4" rx="8.0" ry="4.5" fill="#3a3640"/>
<polygon points="950.0,322.7 959.2,327.9 959.2,323.1 950.0,317.9" fill="#cfd1d6"/>
<polygon points="959.2,327.9 964.4,324.9 964.4,320.1 959.2,323.1" fill="#a9abb3"/>
<polygon points="950.0,317.9 955.2,314.9 964.4,320.1 959.2,323.1" fill="#e6e7ea"/>
<polygon points="951.1,319.8 953.7,321.3 953.7,323.5 951.1,322.1" fill="#3a3c46"/>
<polygon points="955.0,322.1 957.6,323.5 957.6,325.8 955.0,324.3" fill="#3a3c46"/>
<ellipse cx="961.8" cy="324.2" rx="1.0" ry="1.3" fill="#2e3038"/>
<polygon points="940.9,317.3 940.8,318.9 943.6,319.3 942.8,320.8 945.4,321.5 943.9,322.9 946.1,323.9 944.2,325.1 945.9,326.3 943.5,327.2 944.6,328.7 941.9,329.2 942.3,330.8 939.5,330.9 939.3,332.5 936.5,332.2 935.6,333.8 933.0,333.1 931.4,334.5 929.2,333.5 927.1,334.6 925.3,333.4 922.8,334.2 921.6,332.7 918.9,333.2 918.3,331.6 915.5,331.7 915.6,330.1 912.8,329.7 913.6,328.2 911.0,327.5 912.4,326.1 910.2,325.1 912.2,323.9 910.5,322.7 912.9,321.8 911.8,320.3 914.5,319.8 914.0,318.2 916.9,318.1 917.1,316.5 919.9,316.8 920.8,315.2 923.4,315.9 925.0,314.5 927.2,315.5 929.3,314.4 931.1,315.6 933.6,314.8 934.8,316.3 937.5,315.8 938.1,317.4" fill="#bcc05e"/>
<ellipse cx="928.2" cy="325.9" rx="14.4" ry="8.1" fill="#c9ccd4"/>
<ellipse cx="928.2" cy="324.5" rx="14.4" ry="8.1" fill="#f4f5f7"/>
<ellipse cx="928.2" cy="324.5" rx="12.6" ry="7.1" fill="#5eaac0"/>
<ellipse cx="928.2" cy="323.7" rx="9.4" ry="5.3" fill="#79bed0"/>
<line x1="928.2" y1="322.9" x2="936.7" y2="318.1" stroke="#a8774c" stroke-width="2"/>
<ellipse cx="928.2" cy="323.9" rx="3.7" ry="2.1" fill="#efece8"/>
<ellipse cx="928.2" cy="322.3" rx="2.5" ry="1.4" fill="#ffffff"/>
<ellipse cx="996.8" cy="338.9" rx="3.4" ry="1.9" fill="#3a3640"/>
<polygon points="993.4,338.1 997.2,340.2 997.2,337.8 993.4,335.7" fill="#cfd1d6"/>
<polygon points="997.2,340.2 1000.2,338.6 1000.2,336.2 997.2,337.8" fill="#a9abb3"/>
<polygon points="993.4,335.7 996.4,334.0 1000.2,336.2 997.2,337.8" fill="#e6e7ea"/>
<polygon points="997.6,338.3 998.4,337.9 998.4,339.0 997.6,339.4" fill="#3a3c46"/>
<polygon points="998.9,337.6 999.7,337.1 999.7,338.3 998.9,338.7" fill="#3a3c46"/>
<ellipse cx="995.3" cy="338.1" rx="1.0" ry="1.3" fill="#2e3038"/>
<polygon points="971.3,333.8 971.2,335.4 974.0,335.8 973.2,337.3 975.7,338.0 974.3,339.4 976.5,340.4 974.6,341.6 976.3,342.8 973.9,343.7 975.0,345.2 972.3,345.7 972.7,347.3 969.9,347.4 969.7,349.0 966.9,348.7 965.9,350.3 963.3,349.6 961.8,351.0 959.5,350.0 957.5,351.1 955.7,349.9 953.2,350.7 952.0,349.2 949.3,349.7 948.7,348.1 945.9,348.2 946.0,346.6 943.2,346.2 944.0,344.7 941.4,344.0 942.8,342.6 940.6,341.6 942.6,340.4 940.9,339.1 943.3,338.3 942.2,336.8 944.9,336.3 944.4,334.7 947.3,334.6 947.5,333.0 950.3,333.3 951.2,331.7 953.8,332.4 955.3,331.0 957.6,332.0 959.7,330.9 961.5,332.1 963.9,331.3 965.2,332.8 967.9,332.3 968.5,333.9" fill="#bcc05e"/>
<ellipse cx="958.6" cy="342.4" rx="14.4" ry="8.1" fill="#c9ccd4"/>
<ellipse cx="958.6" cy="341.0" rx="14.4" ry="8.1" fill="#f4f5f7"/>
<ellipse cx="958.6" cy="341.0" rx="12.6" ry="7.1" fill="#5eaac0"/>
<ellipse cx="958.6" cy="340.2" rx="9.4" ry="5.3" fill="#79bed0"/>
<line x1="958.6" y1="339.4" x2="967.1" y2="334.6" stroke="#a8774c" stroke-width="2"/>
<ellipse cx="958.6" cy="340.4" rx="3.7" ry="2.1" fill="#efece8"/>
<ellipse cx="958.6" cy="338.8" rx="2.5" ry="1.4" fill="#ffffff"/>
</g>
</svg>
</body>
</html>
